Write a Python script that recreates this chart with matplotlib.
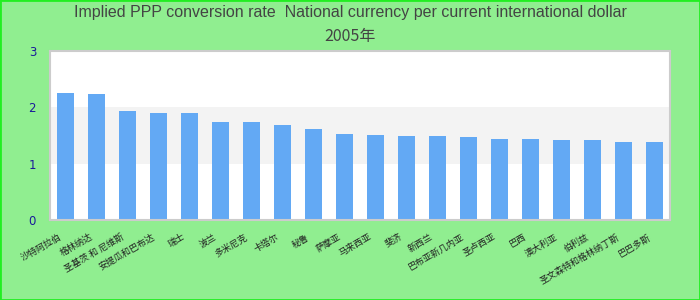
import matplotlib
matplotlib.use("Agg")
import matplotlib.pyplot as plt
from matplotlib.patches import Rectangle
from matplotlib.transforms import ScaledTranslation

categories = ["沙特阿拉伯", "格林纳达", "圣基茨 和 尼维斯", "安提瓜和巴布达", "瑞士",
              "波兰", "多米尼克", "卡塔尔", "秘鲁", "萨摩亚",
              "马来西亚", "斐济", "新西兰", "巴布亚新几内亚", "圣卢西亚",
              "巴西", "澳大利亚", "伯利兹", "圣文森特和格林纳丁斯", "巴巴多斯"]
values = [2.26, 2.24, 1.94, 1.90, 1.90, 1.74, 1.74, 1.69, 1.62, 1.53,
          1.51, 1.49, 1.49, 1.47, 1.44, 1.44, 1.42, 1.42, 1.39, 1.39]
yticks = [0, 1, 2, 3]
title_line1 = "Implied PPP conversion rate  National currency per current international dollar"
title_line2 = "2005年"

fig = plt.figure(figsize=(7, 3), dpi=100, facecolor="#90EE90")
fig.patches.append(Rectangle((0, 0), 1, 1, transform=fig.transFigure, fill=False,
                             edgecolor="#22ee22", linewidth=2, zorder=10))
ax = fig.add_axes([50/700, 80/300, 620/700, 169/300])
ax.set_facecolor("white")
ax.axhspan(1, 2, color="#f3f3f3", zorder=0, lw=0)
x = list(range(len(categories)))
ax.bar(x, values, width=0.55, color="#63a9f4", zorder=2)
ax.set_xlim(-0.5, len(categories) - 0.5)
ax.set_ylim(0, 3)
ax.set_yticks(yticks)
ax.set_yticklabels([str(t) for t in yticks], color="#1a1a99", fontsize=8.5)
ax.tick_params(axis="y", length=0, pad=10)
ax.tick_params(axis="x", length=0, pad=9)
ax.set_xticks(x)
ax.set_xticklabels(categories, rotation=30, ha="right", rotation_mode="anchor",
                   fontsize=6.5, color="#222222",
                   fontfamily=["Noto Sans CJK SC", "DejaVu Sans"])
offset = ScaledTranslation(-7/100, 0, fig.dpi_scale_trans)
for lbl in ax.get_xticklabels():
    lbl.set_transform(lbl.get_transform() + offset)
for s in ax.spines.values():
    s.set_color("#cccccc")
    s.set_linewidth(1.5)

fig.text(0.5, 1 - 13/300, title_line1, ha="center", va="center", fontsize=11.5,
         color="#444444", fontfamily=["Liberation Sans Narrow", "Liberation Sans", "DejaVu Sans"])
fig.text(0.5, 1 - 37/300, title_line2, ha="center", va="center", fontsize=11.5,
         color="#444444", fontfamily=["Liberation Sans Narrow", "Noto Sans CJK SC", "DejaVu Sans"])

fig.savefig("out.png", dpi=100, facecolor=fig.get_facecolor())
